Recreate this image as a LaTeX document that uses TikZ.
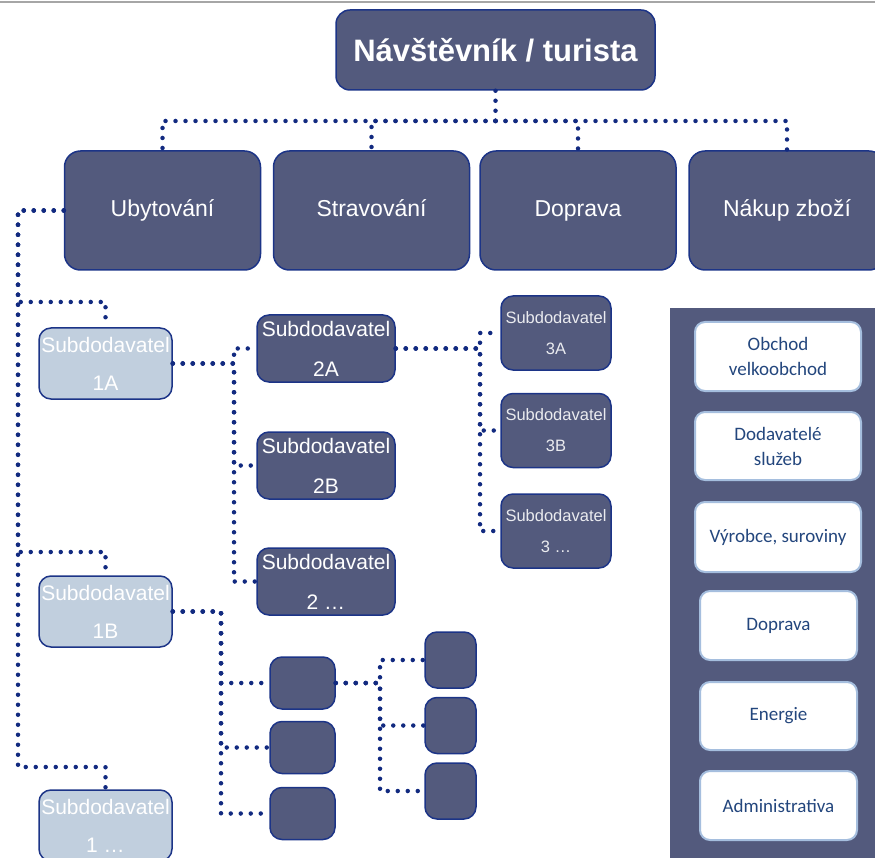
\documentclass[tikz,border=0pt]{standalone}
\usepackage{fontspec}
\setmainfont{Liberation Sans}
\newfontfamily\panelfont{Carlito}
\usetikzlibrary{positioning}
\definecolor{boxNavy}{RGB}{83,90,125}
\definecolor{edgeBlue}{RGB}{28,52,135}
\definecolor{dotBlue}{RGB}{18,42,128}
\definecolor{subLight}{RGB}{193,207,222}
\definecolor{panelText}{RGB}{35,70,125}
\definecolor{panelEdge}{RGB}{165,190,222}

\begin{document}
\begin{tikzpicture}[
    x=1pt, y=-1pt,
    box/.style={rectangle, draw=edgeBlue, line width=1.5pt, rounded corners=12pt, fill=boxNavy, text=white, inner sep=0pt, align=center},
    sector/.style={box, rounded corners=16pt, minimum width=196pt, minimum height=119pt, text height=17pt, text depth=5pt, font=\fontsize{23}{28}\selectfont},
    subone/.style={box, fill=subLight, minimum width=133pt, minimum height=71pt, font=\fontsize{21}{38}\selectfont},
    subtwo/.style={box, minimum width=138pt, minimum height=67pt, font=\fontsize{21}{40}\selectfont},
    subthree/.style={box, minimum width=110pt, minimum height=74pt, text=white!88!boxNavy, font=\fontsize{16.5}{31}\selectfont},
    blank/.style={box, minimum width=65pt, minimum height=52pt},
    blanksmall/.style={box, minimum width=51pt, minimum height=56pt},
    item/.style={rectangle, rounded corners=10pt, fill=white, draw=panelEdge, line width=2pt, text=panelText, inner sep=0pt, align=center, minimum height=69pt, font=\panelfont\fontsize{19}{25}\selectfont},
    link/.style={draw=dotBlue, line width=4.5pt, line cap=round, dash pattern=on 0pt off 10pt}
]
\useasboundingbox (0,0) rectangle (875,858);
\clip (0,0) rectangle (875,858);

\draw[gray!70, line width=1.5pt] (0,2) -- (875,2);

% Top level
\node[box, rounded corners=14pt, minimum width=319pt, minimum height=80pt, font=\bfseries\fontsize{31}{36}\selectfont] (visitor) at (495.5,50) {Návštěvník / turista};

\node[sector] (ubyt) at (162.5,210.5) {Ubytování};
\node[sector] (strav) at (371.5,210.5) {Stravování};
\node[sector] (doprava) at (578,210.5) {Doprava};
\node[sector] (nakup) at (787,210.5) {Nákup zboží};

\coordinate (hub) at (495.5,121);
\draw[link] (visitor) -- (hub);
\foreach \s in {ubyt,strav,doprava,nakup}
    \draw[link] (hub) -| (\s.north);

% Subdodavatel 1
\node[subone] (sub1a) at (105.5,363.5) {Subdodavatel\\1A};
\node[subone] (sub1b) at (105.5,611.5) {Subdodavatel\\1B};
\node[subone] (sub1x) at (105.5,825.5) {Subdodavatel\\1 …};

\coordinate (spine) at (18,210.5);
\foreach \s/\y in {sub1a/302,sub1b/552,sub1x/767}
    \draw[link] (ubyt.west) -- (spine) |- (\s.north |- 0,\y) -- (\s.north);

% Subdodavatel 2
\node[subtwo] (sub2a) at (326,348.5) {Subdodavatel\\2A};
\node[subtwo] (sub2b) at (326,465.5) {Subdodavatel\\2B};
\node[subtwo] (sub2x) at (326,581.5) {Subdodavatel\\2 …};

\coordinate (join1a) at (234,363.5);
\foreach \s in {sub2a,sub2b,sub2x}
    \draw[link] (sub1a.east) -- (join1a) |- (\s.west);

% Subdodavatel 3
\node[subthree] (sub3a) at (556,333) {Subdodavatel\\3A};
\node[subthree] (sub3b) at (556,430.5) {Subdodavatel\\3B};
\node[subthree] (sub3x) at (556,531) {Subdodavatel\\3 …};

\coordinate (join2a) at (480,348.5);
\foreach \s in {sub3a,sub3b,sub3x}
    \draw[link] (sub2a.east) -- (join2a) |- (\s.west);

% Empty boxes under 1B
\node[blank] (blank1) at (302.5,683) {};
\node[blank] (blank2) at (302.5,747.5) {};
\node[blank] (blank3) at (302.5,813.5) {};

\coordinate (join1b) at (221,611.5);
\foreach \s in {blank1,blank2,blank3}
    \draw[link] (sub1b.east) -- (join1b) |- (\s.west);

\node[blanksmall] (small1) at (450.5,660) {};
\node[blanksmall] (small2) at (450.5,725.5) {};
\node[blanksmall] (small3) at (450.5,791) {};

\coordinate (joinb) at (380,683);
\foreach \s in {small1,small2,small3}
    \draw[link] (blank1.east) -- (joinb) |- (\s.west);

% Side panel
\fill[boxNavy] (670,308) rectangle (890,870);
\node[item, minimum width=166pt] (obchod) at (778,356.5) {Obchod\\velkoobchod};
\node[item, minimum width=166pt, minimum height=68pt] (sluzby) at (778,446) {Dodavatelé\\služeb};
\node[item, minimum width=166pt, minimum height=70pt] (vyroba) at (778,537) {Výrobce, suroviny};
\node[item, minimum width=157pt] (doprava2) at (778.5,625.5) {Doprava};
\node[item, minimum width=157pt, minimum height=68pt] (energie) at (778.5,716) {Energie};
\node[item, minimum width=157pt] (admin) at (778.5,805.5) {Administrativa};

\end{tikzpicture}
\end{document}
